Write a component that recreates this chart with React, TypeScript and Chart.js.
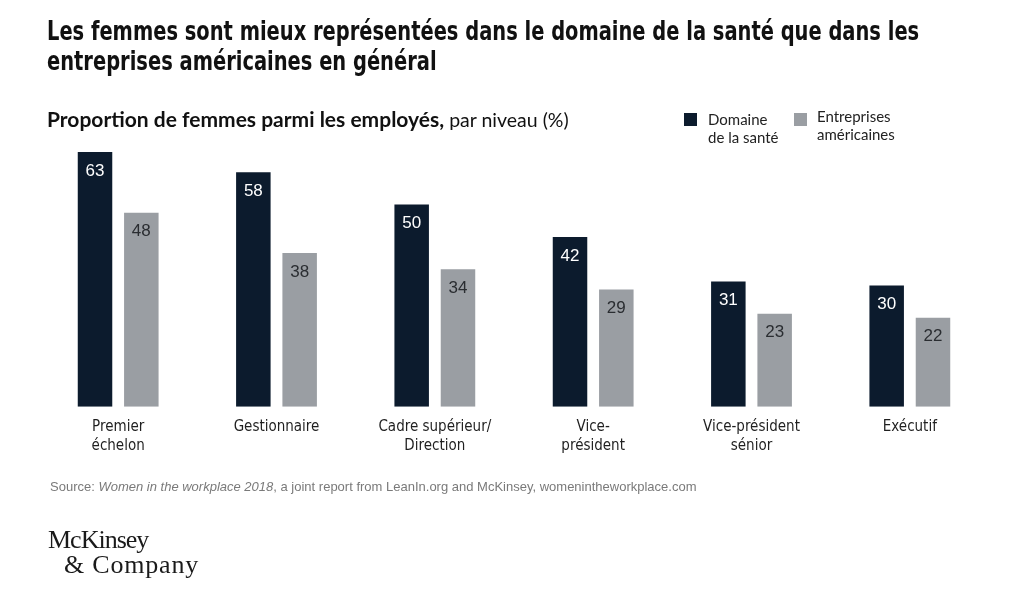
import React, { useEffect, useRef } from "react";
import { Chart, registerables } from "chart.js";

Chart.register(...registerables);

const categories: (string | string[])[] = [
  ["Premier", "échelon"],
  "Gestionnaire",
  ["Cadre supérieur/", "Direction"],
  ["Vice-", "président"],
  ["Vice-président", "sénior"],
  "Exécutif",
];
const santeValues = [63, 58, 50, 42, 31, 30];
const entreprisesValues = [48, 38, 34, 29, 23, 22];
const seriesNames = ["Domaine de la santé", "Entreprises américaines"];

const DARK = "#0c1b2d";
const GRAY = "#9a9ea3";

const condensed = "'Liberation Sans Narrow', 'DejaVu Sans Condensed', 'Roboto Condensed', 'Arial Narrow', sans-serif";
const humanist = "Lato, 'Open Sans', sans-serif";

const valueLabels = {
  id: "valueLabels",
  afterDatasetsDraw(chart: any) {
    const ctx = chart.ctx;
    ctx.save();
    ctx.font = "17px 'Liberation Sans', Arial, sans-serif";
    ctx.textAlign = "center";
    ctx.textBaseline = "middle";
    chart.data.datasets.forEach((ds: any, di: number) => {
      const meta = chart.getDatasetMeta(di);
      ctx.fillStyle = di === 0 ? "#ffffff" : "#2a2d31";
      meta.data.forEach((bar: any, i: number) => {
        ctx.fillText(String(ds.data[i]), bar.x, bar.y + 19);
      });
    });
    ctx.restore();
  },
};

function BarChart() {
  const ref = useRef<HTMLCanvasElement>(null);
  useEffect(() => {
    if (!ref.current) return;
    const chart = new Chart(ref.current, {
      type: "bar",
      data: {
        labels: categories,
        datasets: [
          { label: seriesNames[0], data: santeValues, backgroundColor: DARK },
          { label: seriesNames[1], data: entreprisesValues, backgroundColor: GRAY },
        ],
      },
      options: {
        animation: false,
        responsive: false,
        events: [],
        layout: { padding: { left: 39, right: 35, top: 144, bottom: 0 } },
        plugins: { legend: { display: false }, tooltip: { enabled: false } },
        datasets: { bar: { categoryPercentage: 0.585, barPercentage: 0.745 } },
        scales: {
          x: {
            grid: { display: false },
            border: { display: false },
            ticks: {
              color: "#1f1f1f",
              padding: 3,
              font: { family: condensed, size: 15, lineHeight: 1.27 },
              maxRotation: 0,
              autoSkip: false,
            },
            afterFit: (scale: any) => {
              scale.height = 198.3;
            },
          },
          y: { display: false, min: 0, max: 65 },
        },
      },
      plugins: [valueLabels],
    });
    return () => chart.destroy();
  }, []);
  return (
    <canvas
      ref={ref}
      width={1024}
      height={605}
      style={{ position: "absolute", left: 0, top: 0, width: 1024, height: 605 }}
    />
  );
}

export default function App() {
  return (
    <div style={{ position: "absolute", left: 0, top: 0, width: 1024, height: 605, background: "#fff", overflow: "hidden" }}>
      <BarChart />
      <div
        style={{
          position: "absolute",
          left: 47,
          top: 16,
          width: 1200,
          fontFamily: condensed,
          fontWeight: 700,
          fontSize: 26,
          lineHeight: "30px",
          color: "#111",
          whiteSpace: "nowrap",
          transform: "scaleX(0.832)",
          transformOrigin: "left top",
        }}
      >
        Les femmes sont mieux représentées dans le domaine de la santé que dans les
        <br />
        entreprises américaines en général
      </div>
      <div
        style={{
          position: "absolute",
          left: 47,
          top: 107,
          fontFamily: humanist,
          fontSize: 19.5,
          lineHeight: "24px",
          color: "#111",
          whiteSpace: "nowrap",
        }}
      >
        <span style={{ fontWeight: 700, fontSize: 21 }}>Proportion de femmes parmi les employés,</span> par niveau (%)
      </div>
      <div style={{ position: "absolute", left: 684, top: 113, width: 13, height: 13, background: DARK }} />
      <div
        style={{
          position: "absolute",
          left: 708,
          top: 110,
          fontFamily: humanist,
          fontSize: 15,
          lineHeight: "18px",
          color: "#222",
        }}
      >
        Domaine
        <br />
        de la santé
      </div>
      <div style={{ position: "absolute", left: 794, top: 113, width: 13, height: 13, background: GRAY }} />
      <div
        style={{
          position: "absolute",
          left: 817,
          top: 107,
          fontFamily: humanist,
          fontSize: 15,
          lineHeight: "18px",
          color: "#222",
        }}
      >
        Entreprises
        <br />
        américaines
      </div>
      <div
        style={{
          position: "absolute",
          left: 50,
          top: 479,
          fontFamily: "'Liberation Sans', Arial, sans-serif",
          fontSize: 13,
          color: "#7a7a7a",
          whiteSpace: "nowrap",
        }}
      >
        Source: <i>Women in the workplace 2018</i>, a joint report from LeanIn.org and McKinsey, womenintheworkplace.com
      </div>
      <div
        style={{
          position: "absolute",
          left: 48,
          top: 527,
          fontFamily: "'Liberation Serif', 'DejaVu Serif', serif",
          fontSize: 26,
          lineHeight: "25px",
          color: "#1a1a1a",
          whiteSpace: "nowrap",
        }}
      >
        <span style={{ letterSpacing: -1 }}>McKinsey</span>
        <br />
        <span style={{ marginLeft: 16, letterSpacing: 0.8 }}>&amp; Company</span>
      </div>
    </div>
  );
}
